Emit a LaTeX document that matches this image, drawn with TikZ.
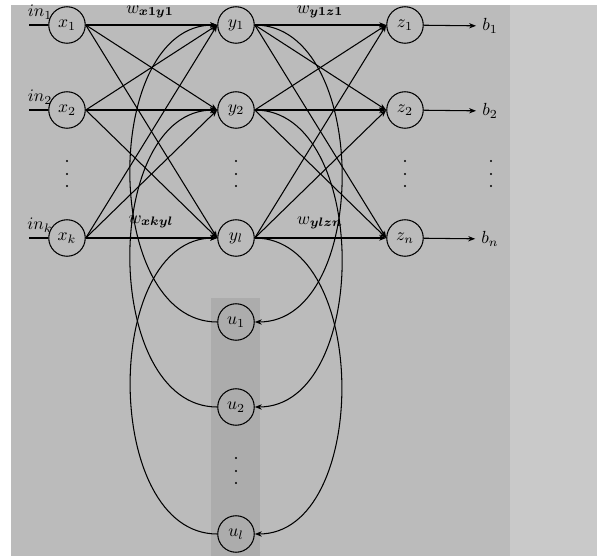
\documentclass[tikz,border=0pt]{standalone}
\usepackage{tikz}
\usepackage{amsmath}
\usepackage{amsfonts}
\usetikzlibrary{positioning,calc,arrows,arrows.meta}

\definecolor{panel}{RGB}{187,187,187}
\definecolor{side}{RGB}{201,201,201}
\definecolor{ctx}{RGB}{172,172,172}

\begin{document}
\begin{tikzpicture}[
    unit/.style={draw, circle, minimum size=0.73cm, inner sep=0pt, semithick},
    arrow/.style={-{Stealth[length=4pt,width=3pt]}, semithick},
    wire/.style={semithick},
    label/.style={font=\normalsize}
]

% Background
\useasboundingbox (0,0) rectangle (11.94,-11.12);
\fill[white] (0,0) rectangle (11.94,-11.12);
\fill[panel] (0.22,-0.1) rectangle (10.2,-11.12);
\fill[side] (10.2,-0.1) rectangle (11.94,-11.12);
\fill[ctx] (4.22,-5.96) rectangle (5.2,-11.12);

% Input layer
\node[unit] (x1) at (1.34,-0.5) {$x_1$};
\node[unit] (x2) at (1.34,-2.2) {$x_2$};
\node[unit] (xk) at (1.34,-4.76) {$x_k$};

% Hidden layer
\node[unit] (y1) at (4.72,-0.5) {$y_1$};
\node[unit] (y2) at (4.72,-2.2) {$y_2$};
\node[unit] (yl) at (4.72,-4.76) {$y_l$};

% Output layer
\node[unit] (z1) at (8.1,-0.5) {$z_1$};
\node[unit] (z2) at (8.1,-2.2) {$z_2$};
\node[unit] (zn) at (8.1,-4.76) {$z_n$};

% Context layer
\node[unit] (u1) at (4.72,-6.44) {$u_1$};
\node[unit] (u2) at (4.72,-8.14) {$u_2$};
\node[unit] (ul) at (4.72,-10.68) {$u_l$};

% Outputs
\node[label] (b1) at (9.8,-0.52) {$b_1$};
\node[label] (b2) at (9.8,-2.22) {$b_2$};
\node[label] (bn) at (9.8,-4.78) {$b_n$};

% Vertical dots
\foreach \dx in {1.34, 4.72, 8.1, 9.82}
    \foreach \dy in {-3.22, -3.48, -3.72}
        \fill (\dx,\dy) circle (0.022);
\foreach \dy in {-9.16, -9.42, -9.66}
    \fill (4.72,\dy) circle (0.022);

% Inputs
\coordinate (i1) at (0.58,-0.5);
\coordinate (i2) at (0.58,-2.2);
\coordinate (ik) at (0.58,-4.76);
\node[label] (in1) at (0.8,-0.24) {$in_1$};
\node[label] (in2) at (0.8,-1.94) {$in_2$};
\node[label] (ink) at (0.8,-4.5) {$in_k$};
\draw[wire] (i1) -- (x1);
\draw[wire] (i2) -- (x2);
\draw[wire] (ik) -- (xk);

% Weights
\node[label] (wxy1) at (3.0,-0.24) {$w_{\boldsymbol{x1y1}}$};
\node[label] (wxyk) at (3.02,-4.44) {$w_{\boldsymbol{xkyl}}$};
\node[label] (wyz1) at (6.4,-0.24) {$w_{\boldsymbol{y1z1}}$};
\node[label] (wyzn) at (6.4,-4.46) {$w_{\boldsymbol{ylzn}}$};

% Input to hidden
\draw[arrow] (x1.east) -- (y1.west);
\draw[arrow] (x1.east) -- (y2.west);
\draw[arrow] (x1.east) -- (yl.west);
\draw[arrow] (x2.east) -- (y1.west);
\draw[arrow] (x2.east) -- (y2.west);
\draw[arrow] (x2.east) -- (yl.west);
\draw[arrow] (xk.east) -- (y1.west);
\draw[arrow] (xk.east) -- (y2.west);
\draw[arrow] (xk.east) -- (yl.west);

% Hidden to output
\draw[arrow] (y1.east) -- (z1.west);
\draw[arrow] (y1.east) -- (z2.west);
\draw[arrow] (y1.east) -- (zn.west);
\draw[arrow] (y2.east) -- (z1.west);
\draw[arrow] (y2.east) -- (z2.west);
\draw[arrow] (y2.east) -- (zn.west);
\draw[arrow] (yl.east) -- (z1.west);
\draw[arrow] (yl.east) -- (z2.west);
\draw[arrow] (yl.east) -- (zn.west);

% Output arrows
\draw[arrow] (z1) -- (b1);
\draw[arrow] (z2) -- (b2);
\draw[arrow] (zn) -- (bn);

% Hidden to context and back
\draw[arrow] (y1.east) to[out=0, in=0] (u1.east);
\draw[arrow] (y2.east) to[out=0, in=0] (u2.east);
\draw[arrow] (yl.east) to[out=0, in=0] (ul.east);
\draw[arrow] (u1.west) to[out=180, in=180] (y1.west);
\draw[arrow] (u2.west) to[out=180, in=180] (y2.west);
\draw[arrow] (ul.west) to[out=180, in=180] (yl.west);

\end{tikzpicture}
\end{document}
